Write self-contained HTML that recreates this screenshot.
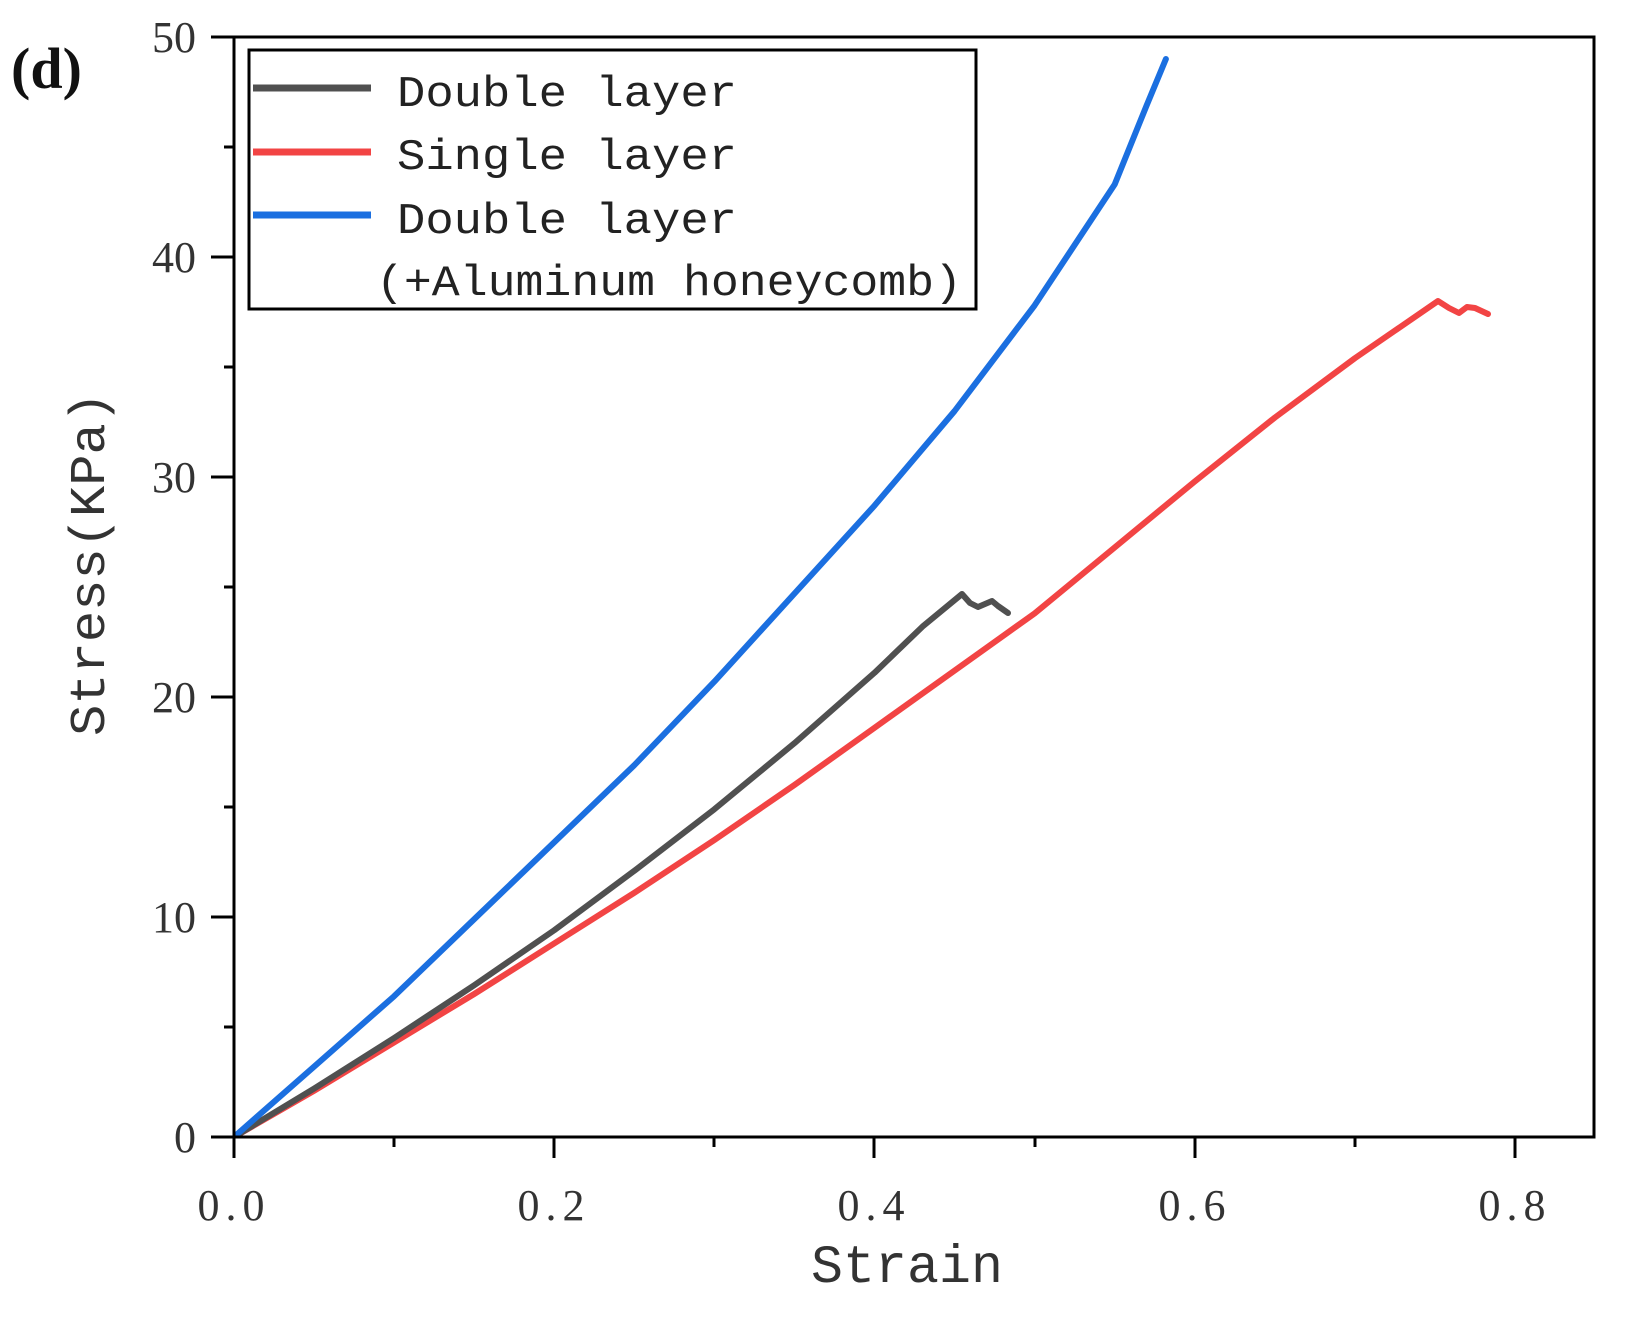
<!DOCTYPE html>
<html><head><meta charset="utf-8"><style>html,body{margin:0;padding:0;background:#fff}</style></head>
<body>
<svg width="1625" height="1314" viewBox="0 0 1625 1314" xmlns="http://www.w3.org/2000/svg">
<rect width="1625" height="1314" fill="#fff"/>
<defs>
<clipPath id="c"><rect x="234" y="37" width="1360" height="1100"/></clipPath>
</defs>
<g clip-path="url(#c)" fill="none" stroke-width="6" stroke-linejoin="round" stroke-linecap="round">
<path stroke="#f24444" d="M234,1137 L314.1,1090.8 L394.1,1042.4 L474.2,994 L554.3,943.4 L634.3,892.8 L714.4,840 L794.4,785 L874.5,727.8 L954.6,670.6 L1034.6,613.4 L1114.7,547.4 L1194.8,481.4 L1274.8,417.6 L1354.9,358.2 L1438,301 L1449,308 L1459,313 L1467,307 L1475,308 L1488,314"/>
<path stroke="#505050" d="M234,1137 L314.1,1088.6 L394.1,1038 L474.2,985.2 L554.3,930.2 L634.3,870.8 L714.4,809.2 L794.4,743.2 L874.5,672.8 L922.5,626.6 L962,594 L970,603 L978,607 L985,604 L992,601 L998,606 L1008,613"/>
<path stroke="#1b6fe0" d="M234,1137 L314.1,1066.6 L394.1,996.2 L474.2,919.2 L554.3,842.2 L634.3,765.2 L714.4,681.6 L794.4,593.6 L874.5,505.6 L954.6,411 L1034.6,305.4 L1114.7,184.4 L1146.7,105.2 L1165.9,59"/>
</g>
<g stroke="#000" stroke-width="3" fill="none">
<rect x="234" y="37" width="1360" height="1100"/>
<path d="M234,1137v21 M554,1137v21 M874,1137v21 M1195,1137v21 M1515,1137v21 M394,1137v10 M714,1137v10 M1035,1137v10 M1355,1137v10"/>
<path d="M234,1137h-23 M234,917h-23 M234,697h-23 M234,477h-23 M234,257h-23 M234,37h-23 M234,1027h-10 M234,807h-10 M234,587h-10 M234,367h-10 M234,147h-10"/>
<rect x="249" y="50" width="727" height="259"/>
</g>
<g stroke-width="7">
<line x1="253" y1="88" x2="371" y2="88" stroke="#505050"/>
<line x1="253" y1="152" x2="371" y2="152" stroke="#f24444"/>
<line x1="253" y1="215" x2="371" y2="215" stroke="#1b6fe0"/>
</g>
<g font-family="Liberation Mono, monospace" font-size="44" fill="#222">
<text x="397" y="106" textLength="340" lengthAdjust="spacingAndGlyphs">Double layer</text>
<text x="397" y="169" textLength="340" lengthAdjust="spacingAndGlyphs">Single layer</text>
<text x="397" y="233" textLength="340" lengthAdjust="spacingAndGlyphs">Double layer</text>
<text x="376" y="295" textLength="586" lengthAdjust="spacingAndGlyphs">(+Aluminum honeycomb)</text>
</g>
<g font-family="Liberation Serif, serif" font-size="44" fill="#333" text-anchor="end">
<text x="196" y="1152">0</text>
<text x="196" y="932">10</text>
<text x="196" y="712">20</text>
<text x="196" y="492">30</text>
<text x="196" y="272">40</text>
<text x="196" y="52">50</text>
</g>
<g font-family="Liberation Serif, serif" font-size="44" fill="#333" text-anchor="middle" letter-spacing="6">
<text x="234" y="1220">0.0</text>
<text x="554" y="1220">0.2</text>
<text x="874" y="1220">0.4</text>
<text x="1195" y="1220">0.6</text>
<text x="1515" y="1220">0.8</text>
</g>
<text x="811" y="1282" font-family="Liberation Mono, monospace" font-size="54" fill="#333" textLength="192" lengthAdjust="spacingAndGlyphs">Strain</text>
<text transform="translate(104,564) rotate(-90)" text-anchor="middle" font-family="Liberation Mono, monospace" font-size="50" fill="#333" textLength="344" lengthAdjust="spacingAndGlyphs">Stress(KPa)</text>
<text x="11" y="88" font-family="Liberation Serif, serif" font-weight="bold" font-size="58" fill="#111">(d)</text>
</svg>
</body></html>
